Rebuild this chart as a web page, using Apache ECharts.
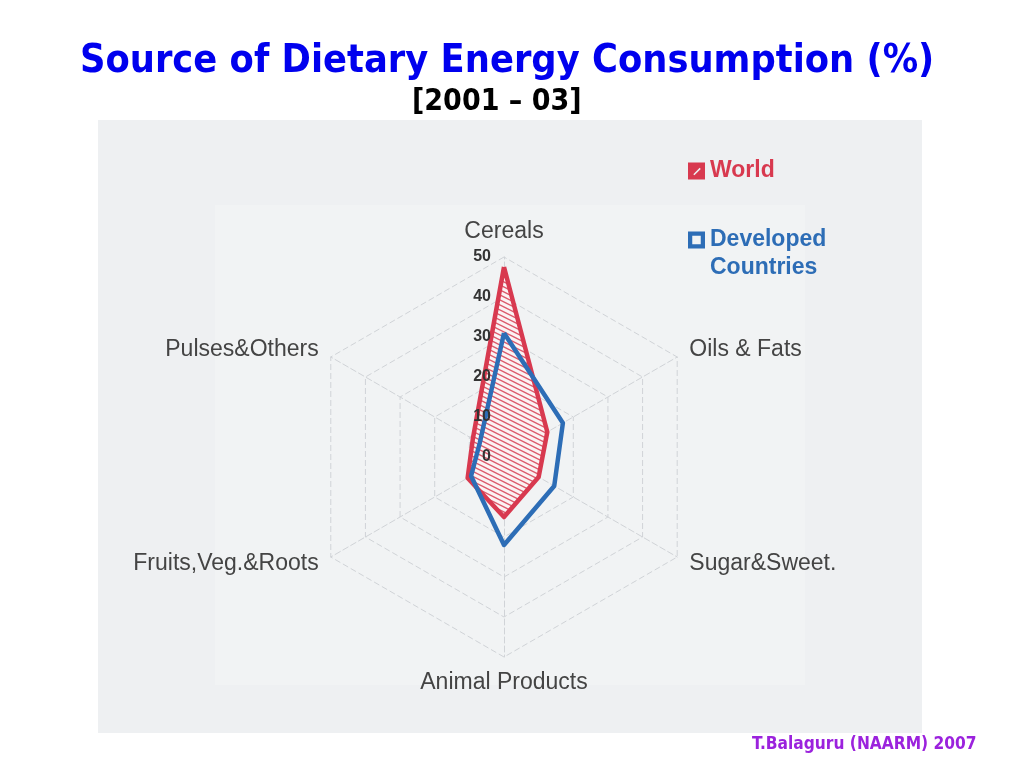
<!DOCTYPE html>
<html>
<head>
<meta charset="utf-8">
<script src="https://cdn.jsdelivr.net/npm/echarts@6/dist/echarts.min.js"></script>
<style>
html,body{margin:0;padding:0;background:#fff;}
#main{width:1024px;height:768px;}
</style>
</head>
<body>
<div id="main"></div>
<script>
// categories listed clockwise from the top, as in the picture
const categories = ['Cereals', 'Oils & Fats', 'Sugar&Sweet.', 'Animal Products', 'Fruits,Veg.&Roots', 'Pulses&Others'];
const worldValues = [47.5, 12.5, 10, 15, 10.5, 9];
const developedValues = [31, 17, 14.5, 22, 9.5, 7];
const seriesNames = ['World', 'Developed Countries'];
const axisMax = 50;

// ECharts lays indicators counter-clockwise: keep the first, reverse the rest
const order = [0].concat(categories.map((_, i) => i).slice(1).reverse());
const reorder = arr => order.map(i => arr[i]);

// hatch pattern for the World area
const pc = document.createElement('canvas');
pc.width = 10; pc.height = 5;
const px = pc.getContext('2d');
px.fillStyle = '#fbf3f4';
px.fillRect(0, 0, 10, 5);
px.strokeStyle = '#dc5a6b';
px.lineWidth = 1.4;
for (let k = -1; k <= 1; k++) {
  px.beginPath();
  px.moveTo(-1, -0.5 + k * 5);
  px.lineTo(11, 5.5 + k * 5);
  px.stroke();
}

const gridIndicator = reorder(categories).map(c => ({ name: c, max: axisMax, min: 0 }));
const labelIndicator = reorder(categories).map((c, i) => {
  const o = { name: c, max: axisMax, min: 0 };
  if (i === 0) {
    o.axisLabel = {
      show: true, color: '#333', fontWeight: 'bold', fontSize: 16,
      fontFamily: 'Liberation Sans', margin: 13, showMinLabel: true
    };
  }
  return o;
});

const RED = '#d8394f';
const BLUE = '#2d6db6';

const chart = echarts.init(document.getElementById('main'));
chart.setOption({
  backgroundColor: '#ffffff',
  animation: false,
  graphic: [
    { type: 'rect', shape: { x: 98, y: 120, width: 824, height: 613 }, style: { fill: '#eef0f2' }, z: -10 },
    { type: 'rect', shape: { x: 215, y: 205, width: 590, height: 480 }, style: { fill: '#f1f3f4' }, z: -9 }
  ],
  title: [
    {
      text: 'Source of Dietary Energy Consumption (%)',
      left: 75, top: 37,
      textStyle: { color: '#0000ee', fontSize: 39.3, fontWeight: 'bold', fontFamily: 'DejaVu Sans Condensed' }
    },
    {
      text: '[2001 – 03]',
      left: 407, top: 82,
      textStyle: { color: '#000', fontSize: 30, fontWeight: 'bold', fontFamily: 'DejaVu Sans Condensed' }
    },
    {
      text: 'T.Balaguru (NAARM) 2007',
      left: 747, top: 731,
      textStyle: { color: '#9b22dd', fontSize: 17.2, fontWeight: 'bold', fontFamily: 'DejaVu Sans Condensed' }
    }
  ],
  legend: [
    {
      left: 688, top: 157, padding: 0,
      itemWidth: 17, itemHeight: 17,
      selectedMode: false,
      textStyle: { fontSize: 23, fontWeight: 'bold', fontFamily: 'Liberation Sans', lineHeight: 28 },
      data: [
        { name: seriesNames[0], icon: 'path://M0,0H16V16H0Z M5,11L6,12L12,6L11,5Z',
          itemStyle: { color: RED }, textStyle: { color: RED } }
      ]
    },
    {
      left: 688, top: 198, padding: 0,
      itemWidth: 17, itemHeight: 17,
      selectedMode: false,
      formatter: n => ' \n' + n.replace(' ', '\n'),
      textStyle: { fontSize: 23, fontWeight: 'bold', fontFamily: 'Liberation Sans', lineHeight: 28 },
      data: [
        { name: seriesNames[1], icon: 'path://M0,0H16V16H0Z M4,4V12H12V4Z',
          itemStyle: { color: BLUE }, textStyle: { color: BLUE } }
      ]
    }
  ],
  radar: [
    {
      center: [504, 457],
      radius: 200,
      startAngle: 90,
      shape: 'polygon',
      splitNumber: 5,
      nameGap: 14,
      axisName: { color: '#444', fontSize: 23, fontFamily: 'Liberation Sans' },
      axisLabel: { show: false },
      axisLine: { lineStyle: { color: '#d0d3d7', type: [6, 3], width: 1 } },
      splitLine: { lineStyle: { color: '#d0d3d7', type: [6, 3], width: 1 } },
      splitArea: { show: false },
      indicator: gridIndicator
    },
    {
      center: [504, 457],
      radius: 200,
      startAngle: 90,
      shape: 'polygon',
      splitNumber: 5,
      z: 10,
      axisName: { show: false },
      axisLabel: { show: false },
      axisLine: { show: false },
      splitLine: { show: false },
      splitArea: { show: false },
      indicator: labelIndicator
    }
  ],
  series: [
    {
      type: 'radar',
      radarIndex: 0,
      symbol: 'none',
      z: 2,
      data: [
        { name: seriesNames[0], value: reorder(worldValues),
          lineStyle: { width: 0, color: RED },
          itemStyle: { color: RED },
          areaStyle: { color: { image: pc, repeat: 'repeat' }, opacity: 1 } }
      ]
    },
    {
      type: 'radar',
      radarIndex: 0,
      symbol: 'none',
      z: 3,
      data: [
        { name: seriesNames[0], value: reorder(worldValues),
          lineStyle: { color: RED, width: 4.5 },
          itemStyle: { color: RED } },
        { name: seriesNames[1], value: reorder(developedValues),
          lineStyle: { color: BLUE, width: 4.5 },
          itemStyle: { color: BLUE } }
      ]
    }
  ]
});
</script>
</body>
</html>
